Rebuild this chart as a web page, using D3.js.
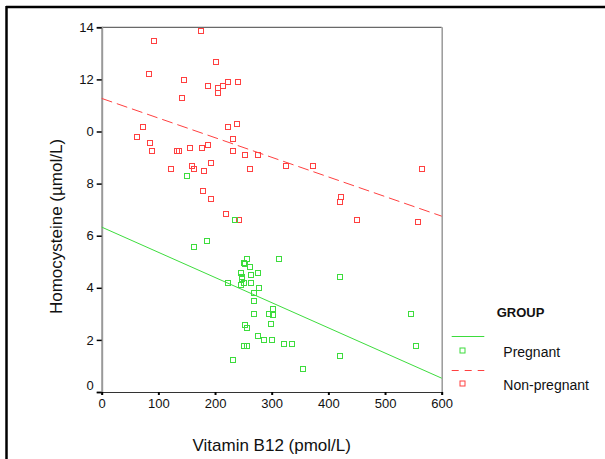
<!DOCTYPE html>
<html>
<head>
<meta charset="utf-8">
<script src="https://cdn.jsdelivr.net/npm/d3@7"></script>
<style>
  body { margin: 0; background: #fff; }
  svg { font-family: "Liberation Sans", Arial, sans-serif; }
</style>
</head>
<body>
<svg id="chart" width="605" height="459"></svg>
<script>
// B12 (pmol/L) and homocysteine (umol/L)
const pregB12 = [151, 235, 162, 185, 256, 313, 251, 253, 261, 276, 263, 246, 247, 248, 263, 251, 245, 223, 278, 268, 268, 303, 296, 303, 268, 299, 253, 256, 275, 287, 300, 321, 336, 251, 257, 231, 356, 421, 545, 555, 421];
const pregHcy = [8.29, 6.61, 5.57, 5.8, 5.09, 5.09, 4.97, 4.9, 4.78, 4.55, 4.48, 4.55, 4.4, 4.33, 4.18, 4.18, 4.12, 4.18, 3.98, 3.79, 3.48, 3.18, 3.0, 2.94, 3.0, 2.6, 2.56, 2.44, 2.14, 1.99, 1.99, 1.83, 1.84, 1.76, 1.75, 1.22, 0.89, 4.4, 2.98, 1.76, 1.37];

const nonB12 = [175, 93, 201, 84, 146, 187, 141, 214, 222, 241, 205, 205, 73, 63, 86, 89, 132, 137, 155, 177, 187, 160, 162, 192, 181, 122, 178, 192, 223, 238, 231, 232, 252, 275, 261, 325, 373, 566, 423, 421, 220, 242, 450, 559];
const nonHcy = [13.86, 13.49, 12.68, 12.2, 11.96, 11.76, 11.27, 11.76, 11.89, 11.89, 11.67, 11.49, 10.19, 9.77, 9.55, 9.27, 9.27, 9.27, 9.35, 9.35, 9.47, 8.69, 8.57, 8.78, 8.47, 8.57, 7.7, 7.39, 10.19, 10.28, 9.73, 9.27, 9.1, 9.08, 8.57, 8.69, 8.66, 8.57, 7.47, 7.29, 6.85, 6.59, 6.59, 6.51];

// fit lines: value at B12 = 0 and B12 = 600
const fitX = [0, 600];
const pregFit = [6.33, 0.53];
const nonFit = [11.27, 6.75];

const xTicks = [0, 100, 200, 300, 400, 500, 600];
const yTicks = [0, 2, 4, 6, 8, 10, 12, 14];
const yTickLabels = ["0", "2", "4", "6", "8", "0", "12", "14"];

const green = "#3ddc3d", red = "#ff4040";

const svg = d3.select("#chart");
const x = d3.scaleLinear().domain([0, 600]).range([101.7, 441.7]);
const y = d3.scaleLinear().domain([0, 14]).range([392, 27.3]);

// outer frame (only top and left show)
svg.append("line").attr("x1", 6).attr("x2", 605).attr("y1", 7).attr("y2", 7)
  .attr("stroke", "#000").attr("stroke-width", 2.5);
svg.append("line").attr("x1", 6.5).attr("x2", 6.5).attr("y1", 6).attr("y2", 459)
  .attr("stroke", "#000").attr("stroke-width", 2.5);

// plot box
svg.append("line").attr("x1", x(0)).attr("x2", x(600)).attr("y1", y(14)).attr("y2", y(14))
  .attr("stroke", "#444").attr("stroke-width", 1);
svg.append("line").attr("x1", x(600) + 0.5).attr("x2", x(600) + 0.5).attr("y1", y(14)).attr("y2", y(0))
  .attr("stroke", "#999").attr("stroke-width", 1.5);

const yAxis = svg.append("g")
  .attr("transform", `translate(${x(0)},0)`)
  .call(d3.axisLeft(y).tickValues(yTicks).tickSize(5).tickPadding(3)
    .tickFormat((d, i) => yTickLabels[i]));
yAxis.select(".domain").attr("stroke", "#999").attr("stroke-width", 2);
yAxis.selectAll(".tick line").attr("stroke", "#000").attr("stroke-width", 1.5);
yAxis.selectAll(".tick text").attr("font-size", 13).attr("fill", "#111")
  .attr("font-family", "Liberation Sans, Arial, sans-serif")
  .attr("dy", d => d === 0 ? "-0.2em" : "0.32em");

const xAxis = svg.append("g")
  .attr("transform", `translate(0,${y(0)})`)
  .call(d3.axisBottom(x).tickValues(xTicks).tickSize(3).tickPadding(4));
xAxis.select(".domain").attr("stroke", "#333").attr("stroke-width", 1.2);
xAxis.selectAll(".tick line").attr("stroke", "#000").attr("stroke-width", 2);
xAxis.selectAll(".tick text").attr("font-size", 13).attr("fill", "#111")
  .attr("font-family", "Liberation Sans, Arial, sans-serif");

// axis titles
svg.append("text").attr("x", 271.7).attr("y", 451).attr("text-anchor", "middle")
  .attr("font-size", 17).attr("fill", "#111").text("Vitamin B12 (pmol/L)");
svg.append("text").attr("transform", "translate(62,226.5) rotate(-90)")
  .attr("text-anchor", "middle").attr("font-size", 17).attr("fill", "#111")
  .text("Homocysteine (µmol/L)");

// fit lines
const line = d3.line().x(d => x(d[0])).y(d => y(d[1]));
svg.append("path").datum(fitX.map((v, i) => [v, pregFit[i]]))
  .attr("d", line).attr("fill", "none").attr("stroke", green).attr("stroke-width", 1);
svg.append("path").datum(fitX.map((v, i) => [v, nonFit[i]]))
  .attr("d", line).attr("fill", "none").attr("stroke", red).attr("stroke-width", 1)
  .attr("stroke-dasharray", "11,5");

// markers
function drawPoints(xs, ys, color) {
  svg.append("g").selectAll("rect")
    .data(xs.map((v, i) => [v, ys[i]]))
    .enter().append("rect")
    .attr("x", d => Math.round(x(d[0])) - 2.5)
    .attr("y", d => Math.round(y(d[1])) - 2.5)
    .attr("width", 5).attr("height", 5)
    .attr("fill", "none").attr("stroke", color).attr("stroke-width", 1);
}
drawPoints(nonB12, nonHcy, red);
drawPoints(pregB12, pregHcy, green);

// legend
const lg = svg.append("g");
lg.append("text").attr("x", 496.7).attr("y", 317).attr("font-size", 13)
  .attr("font-weight", "bold").attr("fill", "#111").text("GROUP");
lg.append("line").attr("x1", 451.7).attr("x2", 484.3).attr("y1", 336.5).attr("y2", 336.5)
  .attr("stroke", green).attr("stroke-width", 1);
lg.append("rect").attr("x", 460).attr("y", 348).attr("width", 5).attr("height", 5)
  .attr("fill", "none").attr("stroke", green);
lg.append("text").attr("x", 503.3).attr("y", 357).attr("font-size", 14)
  .attr("fill", "#111").text("Pregnant");
lg.append("line").attr("x1", 451.7).attr("x2", 484.3).attr("y1", 370.5).attr("y2", 370.5)
  .attr("stroke", red).attr("stroke-width", 1).attr("stroke-dasharray", "7,6");
lg.append("rect").attr("x", 460).attr("y", 381).attr("width", 5).attr("height", 5)
  .attr("fill", "none").attr("stroke", red);
lg.append("text").attr("x", 503.3).attr("y", 389.5).attr("font-size", 14)
  .attr("fill", "#111").text("Non-pregnant");
</script>
</body>
</html>
